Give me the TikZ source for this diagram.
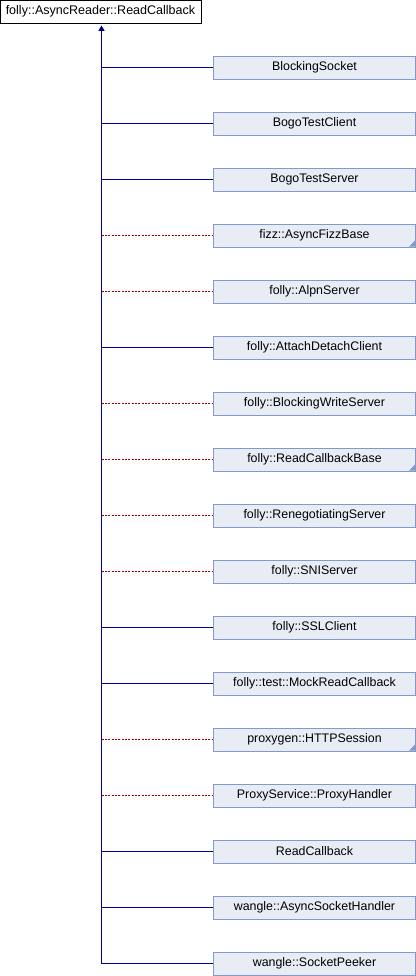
\documentclass[tikz,border=0pt]{standalone}
\usepackage{fontspec}
\setmainfont{Liberation Sans}
\usetikzlibrary{arrows.meta}

\definecolor{boxfill}{RGB}{232,236,245}
\definecolor{boxline}{RGB}{132,152,204}
\definecolor{publine}{RGB}{0,0,150}
\definecolor{privline}{RGB}{150,0,0}

\tikzset{
    basebox/.style={draw=black, fill=white, line width=0.75pt,
        minimum width=150.75pt, minimum height=17.25pt, inner sep=0pt,
        font=\fontsize{9.4}{10}\selectfont},
    childbox/.style={draw=boxline, fill=boxfill, line width=0.75pt,
        minimum width=151.5pt, minimum height=17.25pt, inner sep=0pt,
        font=\fontsize{9.3}{10}\selectfont},
    publink/.style={color=publine, line width=0.75pt},
    privlink/.style={color=privline, line width=0.75pt, dash pattern=on 1.5pt off 1pt}
}

\begin{document}
\begin{tikzpicture}[x=0.75pt, y=-0.75pt]
        \useasboundingbox (0,0) rectangle (416,976);

        % Draw base class
        \node[basebox] (base) at (100.5,11.5) {folly::AsyncReader::ReadCallback};

        % Draw derived classes
        \foreach \name/\linkstyle/\mark [count=\i] in {
            BlockingSocket/publink/0,
            BogoTestClient/publink/0,
            BogoTestServer/publink/0,
            fizz::AsyncFizzBase/privlink/1,
            folly::AlpnServer/privlink/0,
            folly::AttachDetachClient/publink/0,
            folly::BlockingWriteServer/privlink/0,
            folly::ReadCallbackBase/privlink/1,
            folly::RenegotiatingServer/privlink/0,
            folly::SNIServer/privlink/0,
            folly::SSLClient/publink/0,
            folly::test::MockReadCallback/publink/0,
            proxygen::HTTPSession/privlink/1,
            ProxyService::ProxyHandler/privlink/0,
            ReadCallback/publink/0,
            wangle::AsyncSocketHandler/publink/0,
            wangle::SocketPeeker/publink/0}
        {
            \node[childbox] (c\i) at (314.5,67.5+56*\i-56) {\name};
            \coordinate (j\i) at (101.5,67.5+56*\i-56);
            \draw[\linkstyle] (j\i) -- (c\i.west);
            \ifnum\mark=1
                \fill[boxline] ([xshift=-0.75pt,yshift=0.75pt]c\i.south east) -- ++(-6,0) -- ++(6,-6) -- cycle;
            \fi
        }

        % Draw trunk with arrow
        \draw[publink, -{Triangle[length=4pt, width=4.5pt]}, shorten >=1.5pt] (j17) -- (base.south -| j1);
    \end{tikzpicture}
\end{document}
